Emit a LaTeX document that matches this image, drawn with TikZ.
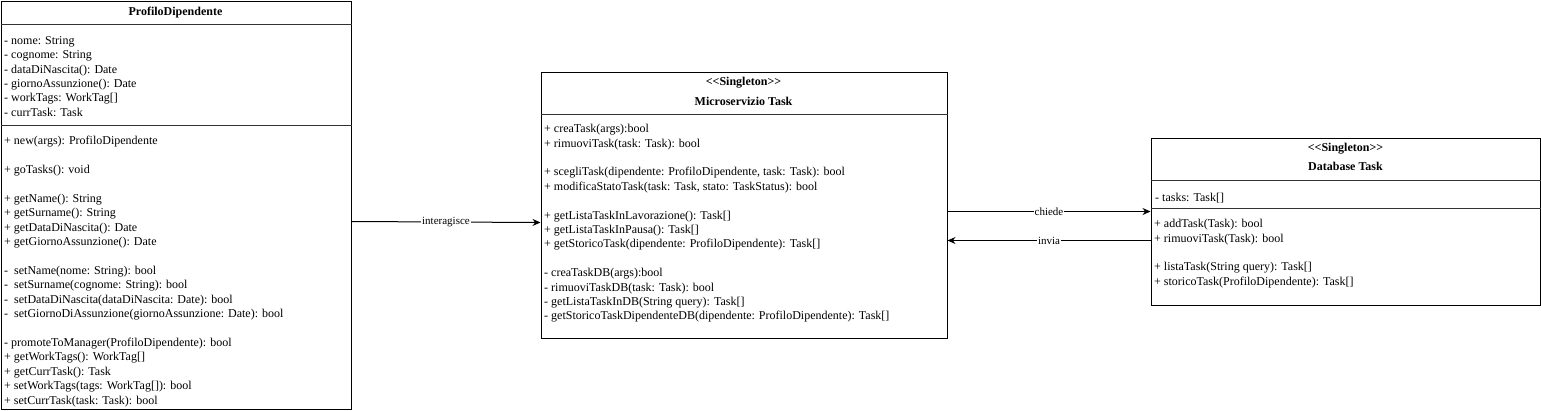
\documentclass[tikz,border=0pt]{standalone}
\usepackage{fontspec}
\setmainfont{Liberation Serif}
\usetikzlibrary{arrows.meta, positioning, calc}
\newcommand{\stereo}[1]{<\kern0pt<#1>\kern0pt>}
\tikzset{
    classbox/.style={
        rectangle,
        draw=black,
        line width=1pt,
        anchor=north west,
        inner sep=0pt,
        fill=white
    },
    classname/.style={
        font=\fontsize{12}{14.4}\selectfont\bfseries,
        anchor=base,
        inner sep=0pt
    },
    members/.style={
        font=\fontsize{12}{14.4}\selectfont,
        align=left,
        anchor=north west,
        inner sep=0pt,
        yshift=8.3pt,
        execute at begin node=\strut
    },
    divider/.style={
        draw=black!80,
        line width=1pt
    },
    wire/.style={
        draw=black,
        line width=1pt,
        -{Stealth[length=8pt,width=7pt]}
    },
    edgelabel/.style={
        font=\fontsize{11}{13}\selectfont,
        fill=white,
        inner sep=1pt
    }
}

\begin{document}
\begin{tikzpicture}[x=1pt, y=-1pt]
\useasboundingbox (0,0) rectangle (1541,410);

% ProfiloDipendente
\node[classbox, minimum width=350pt, minimum height=408.5pt] (pd) at (0.5,0.5) {};
\node[classname] (pd_name) at ($(pd.north west)+(175,15)$) {ProfiloDipendente};
\draw[divider] ($(pd.north west)+(0,24)$) -- ($(pd.north east)+(0,24)$);
\node[members] (pd_attr) at ($(pd.north west)+(3.5,44)$) {
- nome: String\\
- cognome: String\\
- dataDiNascita(): Date\\
- giornoAssunzione(): Date\\
- workTags: WorkTag[]\\
- currTask: Task
};
\draw[divider] ($(pd.north west)+(0,125)$) -- ($(pd.north east)+(0,125)$);
\node[members] (pd_meth) at ($(pd.north west)+(3.5,144)$) {
+ new(args): ProfiloDipendente\\[14.4pt]
+ goTasks(): void\\[14.4pt]
+ getName(): String\\
+ getSurname(): String\\
+ getDataDiNascita(): Date\\
+ getGiornoAssunzione(): Date\\[14.4pt]
-\ \ setName(nome: String): bool\\
-\ \ setSurname(cognome: String): bool\\
-\ \ setDataDiNascita(dataDiNascita: Date): bool\\
-\ \ setGiornoDiAssunzione(giornoAssunzione: Date): bool\\[14.4pt]
- promoteToManager(ProfiloDipendente): bool\\
+ getWorkTags(): WorkTag[]\\
+ getCurrTask(): Task\\
+ setWorkTags(tags: WorkTag[]): bool\\
+ setCurrTask(task: Task): bool
};

% Microservizio Task
\node[classbox, minimum width=406pt, minimum height=266pt] (ms) at (540.5,71.5) {};
\node[classname] (ms_stereo) at ($(ms.north west)+(203,14)$) {\stereo{Singleton}};
\node[classname] (ms_name) at ($(ms.north west)+(203,34)$) {Microservizio Task};
\draw[divider] ($(ms.north west)+(0,43)$) -- ($(ms.north east)+(0,43)$);
\node[members] (ms_meth) at ($(ms.north west)+(3.5,61)$) {
+ creaTask(args):bool\\
+ rimuoviTask(task: Task): bool\\[14.4pt]
+ scegliTask(dipendente: ProfiloDipendente, task: Task): bool\\
+ modificaStatoTask(task: Task, stato: TaskStatus): bool\\[14.4pt]
+ getListaTaskInLavorazione(): Task[]\\
+ getListaTaskInPausa(): Task[]\\
+ getStoricoTask(dipendente: ProfiloDipendente): Task[]\\[14.4pt]
- creaTaskDB(args):bool\\
- rimuoviTaskDB(task: Task): bool\\
- getListaTaskInDB(String query): Task[]\\
- getStoricoTaskDipendenteDB(dipendente: ProfiloDipendente): Task[]
};

% Database Task
\node[classbox, minimum width=389pt, minimum height=167pt] (db) at (1150.5,137.5) {};
\node[classname] (db_stereo) at ($(db.north west)+(195,14)$) {\stereo{Singleton}};
\node[classname] (db_name) at ($(db.north west)+(195,33)$) {Database Task};
\draw[divider] ($(db.north west)+(0,43)$) -- ($(db.north east)+(0,43)$);
\node[members] (db_attr) at ($(db.north west)+(4.5,62)$) {- tasks: Task[]};
\draw[divider] ($(db.north west)+(0,71)$) -- ($(db.north east)+(0,71)$);
\node[members] (db_meth) at ($(db.north west)+(3.5,90)$) {
+ addTask(Task): bool\\
+ rimuoviTask(Task): bool\\[14.4pt]
+ listaTask(String query): Task[]\\
+ storicoTask(ProfiloDipendente): Task[]
};

% Connections
\draw[wire] ($(pd.north east)+(0,221)$) -- node[edgelabel] {interagisce} ($(ms.north west)+(0,151)$);
\draw[wire] ($(ms.north east)+(0,140)$) -- node[edgelabel] {chiede} ($(db.north west)+(0,74)$);
\draw[wire] ($(db.north west)+(0,103)$) -- node[edgelabel] {invia} ($(ms.north east)+(0,169)$);

\end{tikzpicture}
\end{document}
